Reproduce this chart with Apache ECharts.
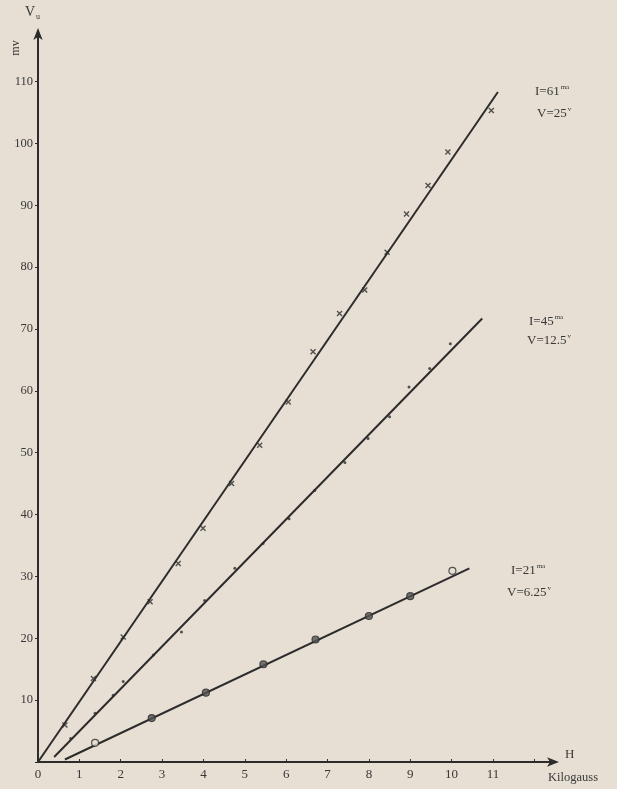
<!DOCTYPE html>
<html>
<head>
<meta charset="utf-8">
<script src="https://cdn.jsdelivr.net/npm/echarts@6/dist/echarts.min.js"></script>
<style>
html,body{margin:0;padding:0;background:#e7dfd3;}
#c{width:617px;height:789px;}
</style>
</head>
<body>
<div id="c"></div>
<script>
// ---- data (H in kilogauss, V in mV) ----
var xTicks = [0,1,2,3,4,5,6,7,8,9,10,11];
var yTicks = [10,20,30,40,50,60,70,80,90,100,110];

// I = 61 mA (crosses)
var h61 = [0.65, 1.34, 2.06, 2.71, 3.39, 3.99, 4.68, 5.36, 6.05, 6.65, 7.29, 7.90, 8.44, 8.91, 9.43, 9.91, 10.96];
var v61 = [6.0, 13.5, 20.2, 25.9, 32.1, 37.8, 45.0, 51.2, 58.2, 66.3, 72.5, 76.3, 82.4, 88.6, 93.2, 98.6, 105.3];
var fitH61 = [0, 11.12];
var fitV61 = [0, 108.3];

// I = 45 mA (dots)
var h45 = [0.79, 1.38, 1.82, 2.06, 2.79, 3.47, 4.03, 4.76, 5.44, 6.07, 6.69, 7.42, 7.98, 8.50, 8.97, 9.47, 9.97];
var v45 = [3.8, 7.9, 10.8, 13.0, 17.3, 21.0, 26.1, 31.3, 35.3, 39.3, 43.9, 48.4, 52.3, 55.8, 60.6, 63.6, 67.6];
var fitH45 = [0.39, 10.74];
var fitV45 = [0.8, 71.7];

// I = 21 mA (circles: filled and open)
var h21 = [2.75, 4.06, 5.45, 6.71, 8.0, 9.0];
var v21 = [7.1, 11.2, 15.8, 19.8, 23.6, 26.8];
var h21open = [1.38, 10.02];
var v21open = [3.1, 30.9];
var fitH21 = [0.65, 10.43];
var fitV21 = [0.4, 31.3];

function pairs(a, b){ return a.map(function(x,i){ return [x, b[i]]; }); }

var ink = '#2c2c2c';
var txt = '#383838';
var bg = '#e7dfd3';
var serif = '"Liberation Serif","DejaVu Serif",serif';

var chart = echarts.init(document.getElementById('c'), null, {renderer:'canvas'});

function fitLine(h, v){
  return {type:'line', data: pairs(h, v), symbol:'none', silent:true,
          lineStyle:{color:ink, width:2}, z:2};
}

function note(left, top, main, sup){
  return {type:'text', left:left, top:top, style:{text:'{m|'+main+'}{s|'+sup+'}',
    rich:{m:{fontFamily:serif, fontSize:13, fill:txt, lineHeight:16},
          s:{fontFamily:serif, fontSize:7, fill:txt, verticalAlign:'top', lineHeight:16, padding:[0,0,7,1]}}}};
}

var option = {
  backgroundColor:bg,
  animation:false,
  grid:{left:38, right:62, top:32, bottom:27},
  xAxis:{
    type:'value', min:0, max:12.5, interval:1,
    axisLine:{show:true, onZero:false, symbol:['none','arrow'], symbolSize:[7,12], symbolOffset:[0,4],
              lineStyle:{color:ink, width:2}},
    axisTick:{show:true, inside:true, length:3, lineStyle:{color:ink, width:1}},
    axisLabel:{color:txt, fontFamily:serif, fontSize:13, margin:6,
               showMaxLabel:false,
               formatter:function(v){ return xTicks.indexOf(v) >= 0 ? String(v) : ''; }},
    splitLine:{show:false}
  },
  yAxis:{
    type:'value', min:0, max:118, interval:10,
    axisLine:{show:true, onZero:false, symbol:['none','arrow'], symbolSize:[7,12], symbolOffset:[0,4],
              lineStyle:{color:ink, width:2}},
    axisTick:{show:true, inside:false, length:3, lineStyle:{color:ink, width:1}},
    axisLabel:{color:txt, fontFamily:serif, fontSize:12.5, margin:5,
               showMaxLabel:false,
               formatter:function(v){ return yTicks.indexOf(v) >= 0 ? String(v) : ''; }},
    splitLine:{show:false}
  },
  series:[
    fitLine(fitH61, fitV61),
    fitLine(fitH45, fitV45),
    fitLine(fitH21, fitV21),
    {type:'scatter', data: pairs(h61, v61), symbol:'path://M0,0L10,10M10,0L0,10', symbolSize:5,
     itemStyle:{color:'none', borderColor:ink, borderWidth:1.4}, z:3},
    {type:'scatter', data: pairs(h45, v45), symbol:'circle', symbolSize:3,
     itemStyle:{color:ink}, z:3},
    {type:'scatter', data: pairs(h21, v21), symbol:'circle', symbolSize:7,
     itemStyle:{color:'#555', borderColor:ink, borderWidth:1.2}, z:3},
    {type:'scatter', data: pairs(h21open, v21open), symbol:'circle', symbolSize:7,
     itemStyle:{color:bg, borderColor:ink, borderWidth:1.2}, z:3}
  ],
  graphic:[
    {type:'text', left:25, top:5, style:{text:'{m|V}{s|u}',
      rich:{m:{fontFamily:serif, fontSize:14, fill:txt, lineHeight:17}, s:{fontFamily:serif, fontSize:8, fill:txt, verticalAlign:'bottom', lineHeight:17, padding:[7,0,0,1]}}}},
    {type:'text', x:16, y:48, rotation:Math.PI/2, style:{text:'mv', fill:txt, font:'12px '+serif, align:'center', verticalAlign:'middle'}},
    {type:'text', left:565, top:748, style:{text:'H', fill:txt, font:'13px '+serif}},
    {type:'text', left:548, top:771, style:{text:'Kilogauss', fill:txt, font:'12.5px '+serif}},
    note(535, 84, 'I=61', 'ma'),
    note(537, 106, 'V=25', 'v'),
    note(529, 314, 'I=45', 'ma'),
    note(527, 333, 'V=12.5', 'v'),
    note(511, 563, 'I=21', 'ma'),
    note(507, 585, 'V=6.25', 'v')
  ]
};
chart.setOption(option);
</script>
</body>
</html>
